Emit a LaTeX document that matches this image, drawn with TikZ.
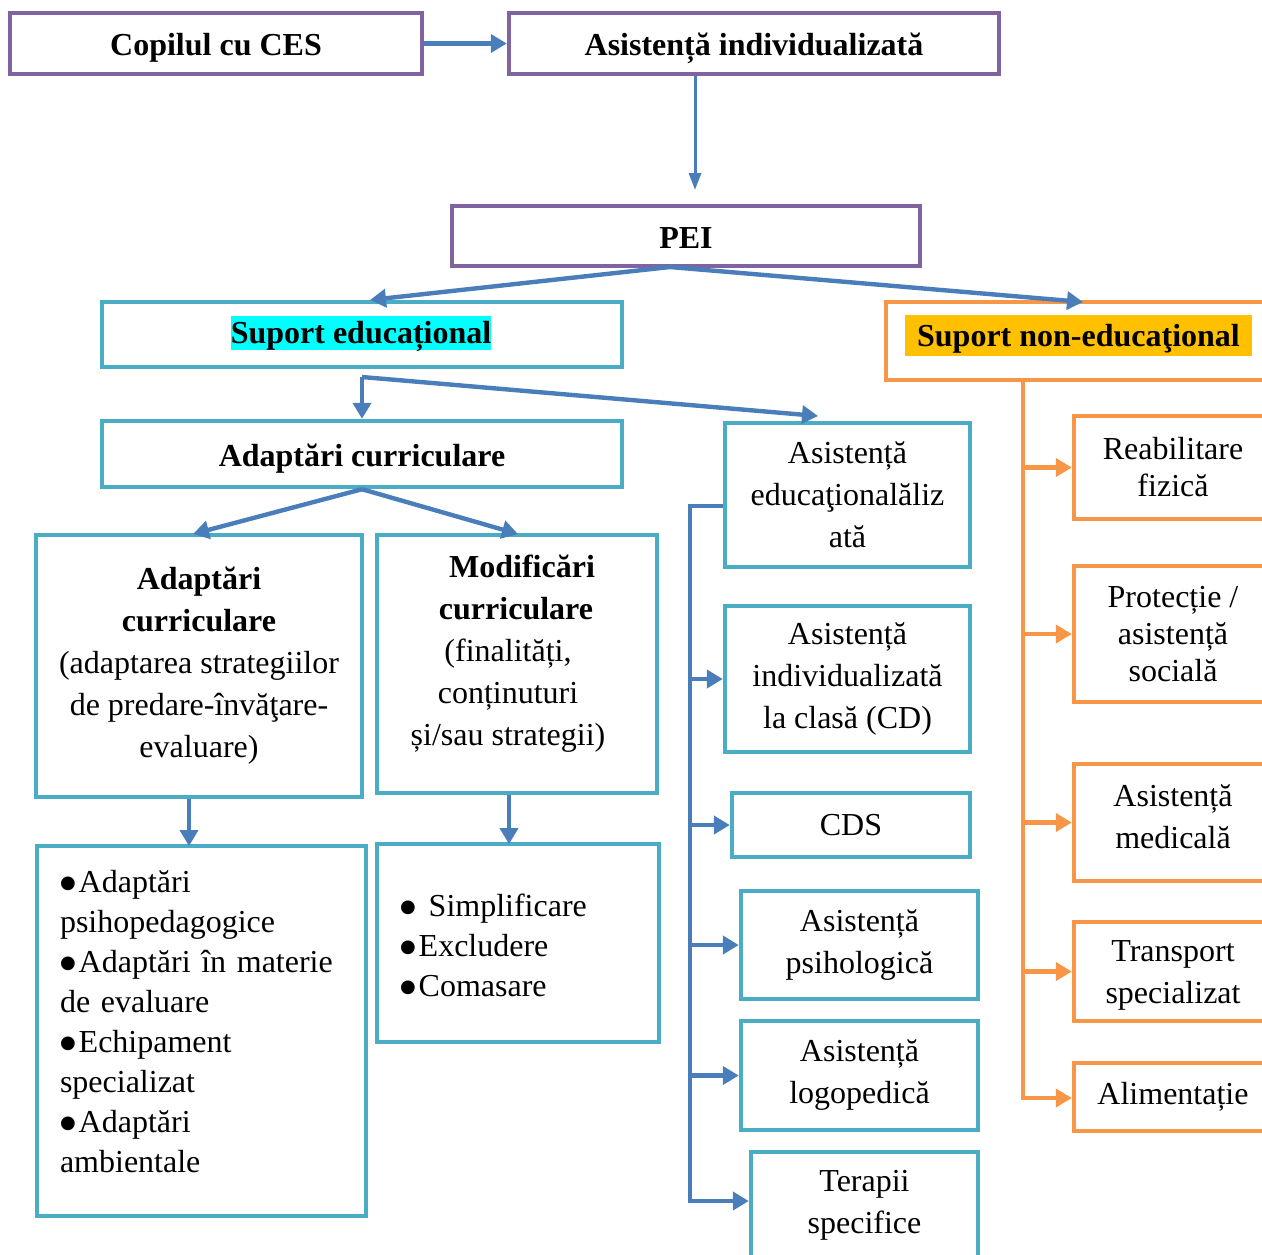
\documentclass[tikz,border=0pt]{standalone}
\usepackage{fontspec}
\setmainfont{Liberation Serif}
\newfontfamily\dotfont{DejaVu Sans}
\usetikzlibrary{arrows.meta}
\definecolor{boxpurple}{HTML}{8064A2}
\definecolor{boxteal}{HTML}{4BACC6}
\definecolor{boxorange}{HTML}{F79646}
\definecolor{linkblue}{HTML}{4A7EBB}
\definecolor{hlcyan}{HTML}{00FFFF}
\definecolor{hlgold}{HTML}{FFC000}
% round list bullet, centred on the x-height
\newcommand\listdot{\raisebox{2pt}{\dotfont\fontsize{9}{9}\selectfont ●}\hspace{1.5pt}}

\begin{document}
\begin{tikzpicture}[x=0.5pt,y=-0.5pt,
  sz/.style 2 args={minimum width=#1*0.5pt, minimum height=#2*0.5pt},
  box/.style={draw, line width=2.2pt, inner sep=0pt, align=center,
    font=\fontsize{16}{21}\selectfont},
  pbox/.style={box, draw=boxpurple, font=\fontsize{16}{21}\selectfont\bfseries,
    text height=15pt, text depth=3pt},
  tbox/.style={box, draw=boxteal},
  obox/.style={box, draw=boxorange},
  hl/.style={inner xsep=0pt, inner ysep=0pt, text height=13.8pt, text depth=3.2pt,
    font=\fontsize{16}{21}\selectfont\bfseries},
  txt/.style={inner sep=0pt, align=center, font=\fontsize{16}{21}\selectfont},
  listtxt/.style={inner sep=0pt, align=left, font=\fontsize{16}{20}\selectfont},
  link/.style={draw=linkblue, line width=2.2pt, -{Triangle[length=8pt,width=9pt]}},
  thinlink/.style={draw=linkblue, line width=1.5pt, -{Triangle[length=8.5pt,width=6pt]}},
  olink/.style={draw=boxorange, line width=2.4pt, -{Triangle[length=8pt,width=9pt]}}
]
\useasboundingbox (0,0) rectangle (1262,1254);
\clip (0,0) rectangle (1262,1254);

% top level
\node[pbox, sz={412}{61}] (copil) at (216,43.5) {Copilul cu CES};
\node[pbox, sz={490}{61}] (asist) at (754,43.5) {Asistență individualizată};
\node[pbox, sz={468}{60}] (pei) at (686,236) {PEI};

% the two kinds of support
\node[tbox, sz={520}{65}] (suped) at (362,334.5) {};
\node[hl, fill=hlcyan] (supedtext) at (361,333) {Suport educațional};
\node[obox, sz={384}{78}] (supned) at (1078,341) {};
\node[hl, fill=hlgold, inner xsep=6.25pt, inner ysep=1.75pt] (supnedtext) at (1078.5,335.5) {Suport non-educaţional};

% educational branch
\node[tbox, sz={520}{66}, font=\fontsize{16}{21}\selectfont\bfseries,
  text height=15pt, text depth=3pt] (adapt) at (362,454) {Adaptări curriculare};
\node[tbox, sz={326}{262}] (adaptc) at (199,666)
  {\textbf{Adaptări}\\\textbf{curriculare}\\(adaptarea strategiilor\\de predare-învăţare-\\evaluare)};
\node[tbox, sz={280}{258}] (modif) at (517,664) {};
\node[txt] (modiftext) at (508,654)
  {\hspace*{14pt}\textbf{Modificări}\\\hspace*{8pt}\textbf{curriculare}\\(finalități,\\conținuturi\\și/sau strategii)};
\node[tbox, sz={329}{370}] (bulA) at (201.5,1031) {};
\node[listtxt, text width=141.5pt] (bulAtext) at (201.5,1022)
  {\listdot Adaptări\\psihopedagogice\\\listdot Adaptări în materie\\de evaluare\\\listdot Echipament\\specializat\\\listdot Adaptări\\ambientale};
\node[tbox, sz={282}{198}] (bulM) at (518,943) {};
\node[listtxt, text width=118pt] (bulMtext) at (518,945)
  {\listdot\hspace{5pt}Simplificare\\\listdot Excludere\\\listdot Comasare};

% services column
\node[tbox, sz={245}{144}] (r1) at (847.5,495) {Asistență\\educaţionalăliz\\ată};
\node[tbox, sz={245}{146}] (r2) at (847.5,679) {Asistență\\individualizată\\la clasă (CD)};
\node[tbox, sz={238}{64}] (cds) at (851,825) {CDS};
\node[tbox, sz={237}{108}] (psih) at (859.5,945) {Asistență\\psihologică};
\node[tbox, sz={237}{109}] (logo) at (859.5,1075.5) {Asistență\\logopedică};
\node[tbox, sz={227}{106}] (terap) at (864.5,1205) {Terapii\\specifice};

% non-educational column
\node[obox, sz={198}{103}, font=\fontsize{16}{18.5}\selectfont] (reab) at (1173,467.5) {Reabilitare\\fizică};
\node[obox, sz={198}{136}, font=\fontsize{16}{18.5}\selectfont] (prot) at (1173,634) {Protecție /\\asistență\\socială};
\node[obox, sz={198}{117}] (med) at (1173,822.5) {};
\node[txt] (medtext) at (1173,817) {Asistență\\medicală};
\node[obox, sz={198}{99}] (trans) at (1173,971.5) {};
\node[txt] (transtext) at (1173,975) {Transport\\specializat};
\node[obox, sz={198}{68}] (alim) at (1173,1097) {Alimentație};

% connectors
\draw[link] (copil.east) -- (asist.west);
\coordinate (peiIn) at (695,190);
\draw[thinlink] (asist.south -| peiIn) -- (peiIn);
\coordinate (peiOut) at (670,267);
\coordinate (supedIn) at (370,300);
\coordinate (supnedIn) at (1083,302);
\draw[link] (peiOut) -- (supedIn);
\draw[link] (peiOut) -- (supnedIn);

\coordinate (supedOut) at (362,377);
\coordinate (r1In) at (818,416);
\draw[link] (supedOut) -- (adapt.north);
\draw[link] (supedOut) -- (r1In);

\coordinate (adaptcIn) at (193,534);
\coordinate (modifIn) at (518,534);
\draw[link] (adapt.south) -- (adaptcIn);
\draw[link] (adapt.south) -- (modifIn);

\coordinate (bulAIn) at (189,846);
\coordinate (bulMIn) at (509,844);
\draw[link] (adaptc.south -| bulAIn) -- (bulAIn);
\draw[link] (modif.south -| bulMIn) -- (bulMIn);

% blue bus feeding the services column
\coordinate (busTop) at (690,506);
\coordinate (busBot) at (690,1201);
\draw[link] (r1.west |- busTop) -- (busTop) -- (busBot) -- (busBot -| terap.west);
\draw[link] (busTop |- r2.west) -- (r2.west);
\draw[link] (busTop |- cds.west) -- (cds.west);
\draw[link] (busTop |- psih.west) -- (psih.west);
\draw[link] (busTop |- logo.west) -- (logo.west);

% orange bus feeding the non-educational column
\coordinate (obusBot) at (1023,1098);
\draw[olink] (supned.south -| obusBot) -- (obusBot) -- (obusBot -| alim.west);
\draw[olink] (obusBot |- reab.west) -- (reab.west);
\draw[olink] (obusBot |- prot.west) -- (prot.west);
\draw[olink] (obusBot |- med.west) -- (med.west);
\draw[olink] (obusBot |- trans.west) -- (trans.west);
\end{tikzpicture}
\end{document}
